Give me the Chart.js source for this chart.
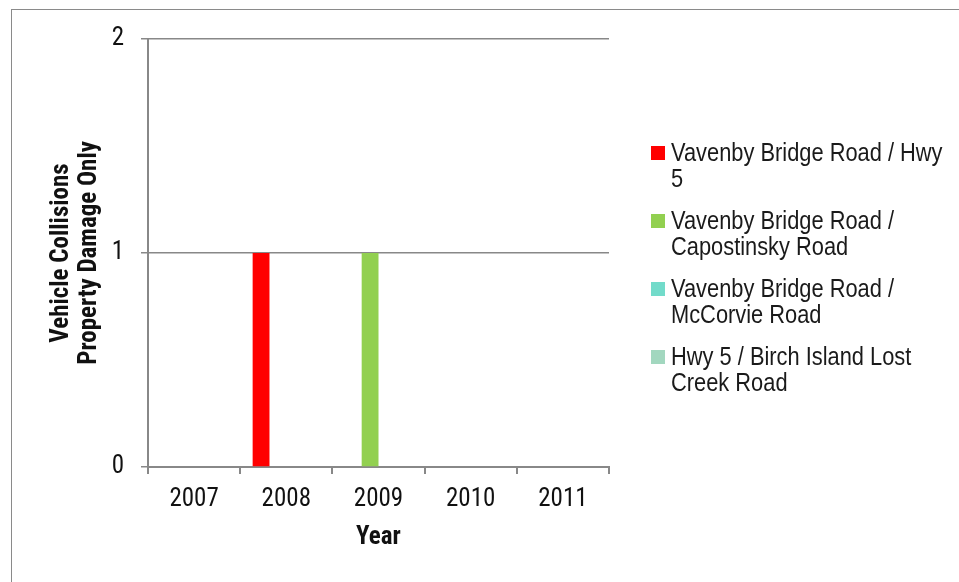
<!DOCTYPE html>
<html>
<head>
<meta charset="utf-8">
<script src="https://cdn.jsdelivr.net/npm/chart.js@4/dist/chart.umd.min.js"></script>
<style>
  html, body { margin: 0; padding: 0; background: #fff; }
  body { width: 959px; height: 582px; position: relative; overflow: hidden; }
  #frame {
    position: absolute; left: 11px; top: 9px; width: 1000px; height: 700px;
    border: 1.5px solid #8a8a8a; box-sizing: border-box;
  }
  #wrap { position: absolute; left: 0; top: 0; width: 959px; height: 582px; }
  #legend {
    position: absolute; left: 651px; top: 139px; white-space: nowrap;
    font-family: "Liberation Sans", Arial, sans-serif;
    font-size: 26px; line-height: 26px; color: #1a1a1a;
  }
  .item { position: relative; padding-left: 20px; margin-bottom: 16px; }
  .swatch { position: absolute; left: 0; top: 7px; width: 14px; height: 14px; }
  .text { transform: scaleX(0.84); transform-origin: 0 0; }
</style>
</head>
<body>
<div id="frame"></div>
<div id="wrap"><canvas id="chart" width="959" height="582"></canvas></div>
<div id="legend"></div>
<script>
// Collisions (property damage only) per year at each intersection.
const YEARS = ["2007", "2008", "2009", "2010", "2011"];

const SERIES_NAMES = [
  ["Vavenby Bridge Road / Hwy", "5"],
  ["Vavenby Bridge Road /", "Capostinsky Road"],
  ["Vavenby Bridge Road /", "McCorvie Road"],
  ["Hwy 5 / Birch Island Lost", "Creek Road"],
];

const HWY5_VALUES = [0, 1, 0, 0, 0];
const CAPOSTINSKY_VALUES = [0, 0, 1, 0, 0];
const MCCORVIE_VALUES = [0, 0, 0, 0, 0];
const BIRCH_ISLAND_VALUES = [0, 0, 0, 0, 0];

const SERIES_COLORS = ["#ff0000", "#92d050", "#72dbca", "#a2d7bf"];

const FONT = "'Roboto Condensed', 'DejaVu Sans Condensed', 'Liberation Sans Narrow', Roboto, sans-serif";
const AXIS_GREY = "#888888";

const seriesValues = [HWY5_VALUES, CAPOSTINSKY_VALUES, MCCORVIE_VALUES, BIRCH_ISLAND_VALUES];

const datasets = seriesValues.map((values, index) => ({
  label: SERIES_NAMES[index].join(" "),
  data: values,
  backgroundColor: SERIES_COLORS[index],
  borderWidth: 0,
  barPercentage: 1,
  categoryPercentage: 0.73,
}));

new Chart(document.getElementById("chart"), {
  type: "bar",
  data: { labels: YEARS, datasets },
  options: {
    responsive: false,
    animation: false,
    layout: { padding: { top: 39, right: 350, left: 0, bottom: 0 } },
    plugins: { legend: { display: false }, tooltip: { enabled: false } },
    scales: {
      x: {
        afterFit: (scale) => { scale.height = 115; },
        grid: {
          drawOnChartArea: false,
          drawTicks: true,
          tickLength: 7,
          color: AXIS_GREY,
          lineWidth: 2,
        },
        border: { display: true, color: AXIS_GREY, width: 2 },
        ticks: { color: "#111", padding: 11, font: { family: FONT, size: 25 } },
        title: {
          display: true,
          text: "Year",
          color: "#111",
          padding: { top: 0, bottom: 29 },
          font: { family: FONT, size: 25, weight: "bold" },
        },
      },
      y: {
        min: 0,
        max: 2,
        afterFit: (scale) => { scale.width = 148; },
        grid: { color: AXIS_GREY, lineWidth: 1.5, tickLength: 7 },
        border: { display: true, color: AXIS_GREY, width: 2 },
        ticks: {
          stepSize: 1,
          color: "#111",
          padding: 17,
          font: { family: FONT, size: 25 },
        },
        title: {
          display: true,
          text: ["Vehicle Collisions", "Property Damage Only"],
          color: "#111",
          padding: { top: 47, bottom: 0 },
          font: { family: FONT, size: 25, weight: "bold", lineHeight: 1.15 },
        },
      },
    },
  },
});

// Legend: Excel wraps the long names onto two lines.
const legend = document.getElementById("legend");
SERIES_NAMES.forEach((lines, index) => {
  const item = document.createElement("div");
  item.className = "item";
  const swatch = document.createElement("span");
  swatch.className = "swatch";
  swatch.style.background = SERIES_COLORS[index];
  item.appendChild(swatch);
  lines.forEach((line) => {
    const row = document.createElement("div");
    row.className = "text";
    row.textContent = line;
    item.appendChild(row);
  });
  legend.appendChild(item);
});
</script>
</body>
</html>
